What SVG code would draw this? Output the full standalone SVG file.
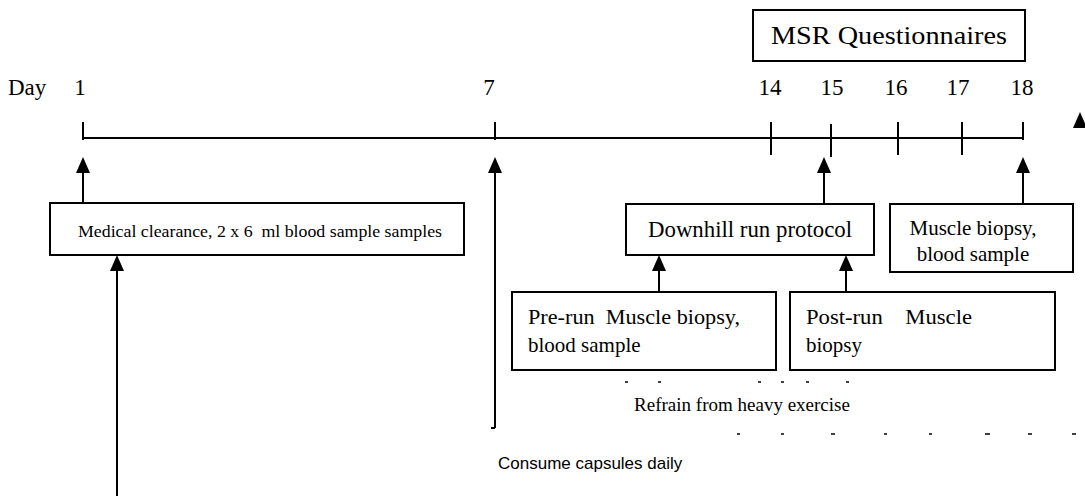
<svg xmlns="http://www.w3.org/2000/svg" width="1085" height="496" viewBox="0 0 1085 496">
<style>
.t{font-family:"Liberation Serif","Times New Roman",serif;fill:#000}
.s{font-family:"Liberation Sans",Arial,sans-serif;fill:#000}
.box{fill:#fff;stroke:#000;stroke-width:2}
.ln{stroke:#000;stroke-width:2;fill:none}
.dash{stroke:#000;stroke-width:1.5}
</style>
<g id="timeline">
<text class="t" x="8" y="95" font-size="23">Day</text>
<text class="t" x="80" y="95" font-size="23" text-anchor="middle">1</text>
<text class="t" x="489" y="95" font-size="23" text-anchor="middle">7</text>
<text class="t" x="770" y="95" font-size="23" text-anchor="middle">14</text>
<text class="t" x="832" y="95" font-size="23" text-anchor="middle">15</text>
<text class="t" x="896" y="95" font-size="23" text-anchor="middle">16</text>
<text class="t" x="958" y="95" font-size="23" text-anchor="middle">17</text>
<text class="t" x="1022" y="95" font-size="23" text-anchor="middle">18</text>
<line class="ln" x1="83" y1="138" x2="1023" y2="138"/>
<line class="ln" x1="83" y1="122" x2="83" y2="140"/>
<line class="ln" x1="495" y1="122" x2="495" y2="140"/>
<line class="ln" x1="771" y1="122" x2="771" y2="155"/>
<line class="ln" x1="831" y1="124" x2="831" y2="157"/>
<line class="ln" x1="898" y1="122" x2="898" y2="155"/>
<line class="ln" x1="962" y1="122" x2="962" y2="155"/>
<line class="ln" x1="1023" y1="122" x2="1023" y2="140"/>
</g>
<g id="msr">
<rect class="box" x="753" y="10" width="272" height="51"/>
<text class="t" x="889" y="44" font-size="25" text-anchor="middle" textLength="236" lengthAdjust="spacingAndGlyphs">MSR Questionnaires</text>
</g>
<g id="medical">
<rect class="box" x="50" y="203" width="414" height="52"/>
<text class="t" x="260" y="237" font-size="16" text-anchor="middle" xml:space="preserve" textLength="364" lengthAdjust="spacingAndGlyphs">Medical clearance, 2 x 6  ml blood sample samples</text>
</g>
<g id="downhill">
<rect class="box" x="626" y="204" width="248" height="51"/>
<text class="t" x="750" y="237" font-size="22.5" text-anchor="middle" textLength="204" lengthAdjust="spacingAndGlyphs">Downhill run protocol</text>
</g>
<g id="biopsy18">
<rect class="box" x="890" y="204" width="183" height="68"/>
<text class="t" x="973" y="235" font-size="21" text-anchor="middle">Muscle biopsy,</text>
<text class="t" x="973" y="261" font-size="21" text-anchor="middle">blood sample</text>
</g>
<g id="prerun">
<rect class="box" x="512" y="292" width="264" height="78"/>
<text class="t" x="528" y="324" font-size="21" xml:space="preserve" textLength="212" lengthAdjust="spacingAndGlyphs">Pre-run  Muscle biopsy,</text>
<text class="t" x="528" y="352" font-size="21">blood sample</text>
</g>
<g id="postrun">
<rect class="box" x="790" y="292" width="265" height="78"/>
<text class="t" x="806" y="324" font-size="21" xml:space="preserve" textLength="166" lengthAdjust="spacingAndGlyphs">Post-run    Muscle</text>
<text class="t" x="806" y="352" font-size="21">biopsy</text>
</g>
<g id="refrain">
<text class="t" x="742" y="411" font-size="19" text-anchor="middle">Refrain from heavy exercise</text>
</g>
<g id="capsules">
<text class="s" x="498" y="469" font-size="17">Consume capsules daily</text>
</g>
<g id="connectors">
<line class="ln" x1="83" y1="203" x2="83" y2="160"/>
<line class="ln" x1="495" y1="428" x2="495" y2="160"/>
<line class="ln" x1="495" y1="428" x2="491" y2="428" stroke-width="1"/>
<line class="ln" x1="117" y1="496" x2="117" y2="258"/>
<line class="ln" x1="824" y1="204" x2="824" y2="160"/>
<line class="ln" x1="1023" y1="204" x2="1023" y2="160"/>
<line class="ln" x1="659" y1="292" x2="659" y2="258"/>
<line class="ln" x1="846" y1="292" x2="846" y2="258"/>
<path d="M83,157 L76,173 L90,173 Z"/>
<path d="M495,157 L488,173 L502,173 Z"/>
<path d="M117,255 L110,271 L124,271 Z"/>
<path d="M824,157 L817,173 L831,173 Z"/>
<path d="M1023,157 L1016,173 L1030,173 Z"/>
<path d="M659,255 L652,271 L666,271 Z"/>
<path d="M846,255 L839,271 L853,271 Z"/>
<path d="M1080,112 L1073,128 L1087,128 Z"/>
</g>
<g id="dashes">
<line class="dash" x1="625" y1="382" x2="628" y2="382"/>
<line class="dash" x1="658" y1="382" x2="661" y2="382"/>
<line class="dash" x1="758" y1="382" x2="761" y2="382"/>
<line class="dash" x1="781" y1="382" x2="784" y2="382"/>
<line class="dash" x1="806" y1="382" x2="809" y2="382"/>
<line class="dash" x1="846" y1="382" x2="849" y2="382"/>
<line class="dash" x1="737" y1="434" x2="740" y2="434"/>
<line class="dash" x1="781" y1="434" x2="784" y2="434"/>
<line class="dash" x1="831" y1="434" x2="835" y2="434"/>
<line class="dash" x1="884" y1="434" x2="887" y2="434"/>
<line class="dash" x1="929" y1="434" x2="932" y2="434"/>
<line class="dash" x1="985" y1="434" x2="990" y2="434"/>
<line class="dash" x1="1028" y1="434" x2="1032" y2="434"/>
<line class="dash" x1="1072" y1="434" x2="1076" y2="434"/>
</g>
</svg>
